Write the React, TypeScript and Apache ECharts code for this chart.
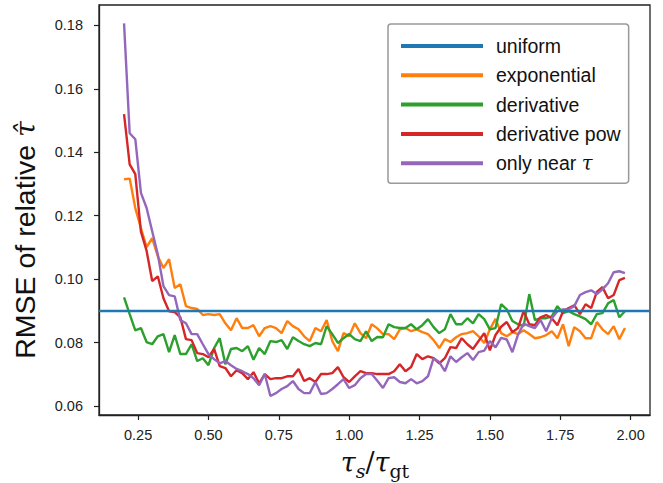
import React, { useEffect, useRef } from 'react';
import * as echarts from 'echarts';

const tauRatio = [
  0.20, 0.22, 0.24, 0.26, 0.28, 0.30, 0.32, 0.34, 0.36, 0.38,
  0.40, 0.42, 0.44, 0.46, 0.48, 0.50, 0.52, 0.54, 0.56, 0.58,
  0.60, 0.62, 0.64, 0.66, 0.68, 0.70, 0.72, 0.74, 0.76, 0.78,
  0.80, 0.82, 0.84, 0.86, 0.88, 0.90, 0.92, 0.94, 0.96, 0.98,
  1.00, 1.02, 1.04, 1.06, 1.08, 1.10, 1.12, 1.14, 1.16, 1.18,
  1.20, 1.22, 1.24, 1.26, 1.28, 1.30, 1.32, 1.34, 1.36, 1.38,
  1.40, 1.42, 1.44, 1.46, 1.48, 1.50, 1.52, 1.54, 1.56, 1.58,
  1.60, 1.62, 1.64, 1.66, 1.68, 1.70, 1.72, 1.74, 1.76, 1.78,
  1.80, 1.82, 1.84, 1.86, 1.88, 1.90, 1.92, 1.94, 1.96, 1.98,
];

const uniformValue = 0.0893;

const exponential = [
  0.1315, 0.1317, 0.1224, 0.1161, 0.1101, 0.1129, 0.1072, 0.1035, 0.1063, 0.0972,
  0.0984, 0.0915, 0.0909, 0.0906, 0.0887, 0.0890, 0.0887, 0.0890, 0.0861, 0.0839,
  0.0877, 0.0846, 0.0846, 0.0855, 0.0820, 0.0846, 0.0852, 0.0846, 0.0830, 0.0868,
  0.0852, 0.0842, 0.0820, 0.0805, 0.0846, 0.0836, 0.0871, 0.0805, 0.0773, 0.0830,
  0.0820, 0.0861, 0.0830, 0.0814, 0.0858, 0.0845, 0.0827, 0.0827, 0.0811, 0.0842,
  0.0846, 0.0836, 0.0842, 0.0833, 0.0827, 0.0808, 0.0783, 0.0811, 0.0802, 0.0817,
  0.0827, 0.0830, 0.0836, 0.0820, 0.0799, 0.0842, 0.0875, 0.0830, 0.0820, 0.0833,
  0.0827, 0.0839, 0.0827, 0.0814, 0.0817, 0.0824, 0.0836, 0.0814, 0.0858, 0.0789,
  0.0849, 0.0836, 0.0814, 0.0814, 0.0865, 0.0842, 0.0827, 0.0852, 0.0811, 0.0846,
];

const derivative = [
  0.0943, 0.0890, 0.0839, 0.0846, 0.0802, 0.0795, 0.0820, 0.0827, 0.0770, 0.0824,
  0.0764, 0.0764, 0.0795, 0.0742, 0.0751, 0.0729, 0.0783, 0.0814, 0.0732, 0.0780,
  0.0783, 0.0773, 0.0789, 0.0746, 0.0783, 0.0764, 0.0805, 0.0802, 0.0808, 0.0780,
  0.0817, 0.0805, 0.0795, 0.0789, 0.0799, 0.0795, 0.0852, 0.0827, 0.0799, 0.0814,
  0.0827, 0.0811, 0.0805, 0.0836, 0.0805, 0.0818, 0.0817, 0.0858, 0.0849, 0.0846,
  0.0846, 0.0858, 0.0842, 0.0855, 0.0874, 0.0849, 0.0830, 0.0842, 0.0890, 0.0858,
  0.0858, 0.0877, 0.0861, 0.0890, 0.0874, 0.0842, 0.0846, 0.0921, 0.0905, 0.0868,
  0.0858, 0.0852, 0.0953, 0.0871, 0.0877, 0.0877, 0.0883, 0.0915, 0.0893, 0.0899,
  0.0890, 0.0883, 0.0874, 0.0858, 0.0890, 0.0893, 0.0924, 0.0934, 0.0880, 0.0899,
];

const derivativePow = [
  0.1520, 0.1362, 0.1331, 0.1150, 0.1090, 0.0994, 0.1009, 0.0940, 0.0899, 0.0896,
  0.0880, 0.0811, 0.0808, 0.0767, 0.0764, 0.0754, 0.0780, 0.0726, 0.0720, 0.0694,
  0.0713, 0.0704, 0.0685, 0.0707, 0.0672, 0.0701, 0.0685, 0.0688, 0.0688, 0.0694,
  0.0694, 0.0717, 0.0679, 0.0688, 0.0676, 0.0701, 0.0701, 0.0704, 0.0723, 0.0691,
  0.0676, 0.0694, 0.0710, 0.0704, 0.0704, 0.0701, 0.0701, 0.0701, 0.0710, 0.0732,
  0.0710, 0.0723, 0.0764, 0.0748, 0.0757, 0.0751, 0.0735, 0.0751, 0.0786, 0.0783,
  0.0814, 0.0795, 0.0780, 0.0805, 0.0830, 0.0776, 0.0824, 0.0850, 0.0865, 0.0833,
  0.0846, 0.0899, 0.0858, 0.0855, 0.0880, 0.0887, 0.0877, 0.0855, 0.0899, 0.0909,
  0.0918, 0.0890, 0.0921, 0.0909, 0.0960, 0.0975, 0.0940, 0.0950, 0.0997, 0.1004,
];

const onlyNearTau = [
  0.1806, 0.1460, 0.1441, 0.1272, 0.1225, 0.1151, 0.1078, 0.0978, 0.0950, 0.0946,
  0.0871, 0.0861, 0.0827, 0.0827, 0.0795, 0.0764, 0.0748, 0.0735, 0.0742, 0.0729,
  0.0717, 0.0710, 0.0701, 0.0688, 0.0666, 0.0701, 0.0632, 0.0641, 0.0654, 0.0663,
  0.0679, 0.0654, 0.0641, 0.0641, 0.0676, 0.0638, 0.0641, 0.0654, 0.0669, 0.0685,
  0.0657, 0.0666, 0.0688, 0.0701, 0.0701, 0.0680, 0.0657, 0.0688, 0.0691, 0.0676,
  0.0672, 0.0685, 0.0672, 0.0679, 0.0694, 0.0751, 0.0739, 0.0710, 0.0757, 0.0739,
  0.0754, 0.0767, 0.0745, 0.0770, 0.0775, 0.0805, 0.0785, 0.0815, 0.0810, 0.0770,
  0.0825, 0.0860, 0.0852, 0.0846, 0.0871, 0.0836, 0.0877, 0.0899, 0.0905, 0.0905,
  0.0915, 0.0950, 0.0959, 0.0965, 0.0953, 0.0968, 0.0987, 0.1022, 0.1025, 0.1019,
];

const xTicks = [0.25, 0.5, 0.75, 1.0, 1.25, 1.5, 1.75, 2.0];
const yTicks = [0.06, 0.08, 0.1, 0.12, 0.14, 0.16, 0.18];

const seriesNames = ['uniform', 'exponential', 'derivative', 'derivative pow', 'only near τ'];
const seriesColors = ['#1f77b4', '#ff7f0e', '#2ca02c', '#d62728', '#9467bd'];

const SANS = '"Liberation Sans", Arial, sans-serif';
const SERIF = '"DejaVu Serif", "Liberation Serif", serif';

export default function App() {
  const ref = useRef<HTMLDivElement>(null);

  useEffect(() => {
    if (!ref.current) return;
    const chart = echarts.init(ref.current, null, { renderer: 'svg' });
    const pair = (ys: number[]) => tauRatio.map((x, i) => [x, ys[i]]);
    const lines = [exponential, derivative, derivativePow, onlyNearTau];

    const axisCommon = {
      type: 'value' as const,
      splitLine: { show: false },
      axisLine: { show: true, lineStyle: { color: '#222', width: 1.3 } },
    };

    chart.setOption({
      animation: false,
      backgroundColor: '#fff',
      grid: {
        left: 99, top: 5, right: 13, bottom: 68,
        show: true, borderColor: '#222', borderWidth: 1.3,
      },
      xAxis: {
        ...axisCommon,
        min: 0.111, max: 2.069,
        axisTick: { show: true, customValues: xTicks, length: 5, lineStyle: { color: '#222', width: 1.2 } },
        axisLabel: {
          customValues: xTicks,
          formatter: (v: number) => v.toFixed(2),
          fontSize: 14.5, color: '#222', fontFamily: SANS, margin: 12,
        },
      },
      yAxis: {
        ...axisCommon,
        min: 0.0572, max: 0.1864,
        axisTick: { show: true, customValues: yTicks, length: 5, lineStyle: { color: '#222', width: 1.2 } },
        axisLabel: {
          customValues: yTicks,
          formatter: (v: number) => v.toFixed(2),
          fontSize: 14.5, color: '#222', fontFamily: SANS, margin: 16,
        },
      },
      legend: {
        orient: 'vertical',
        left: 388, top: 24,
        padding: [12, 8, 10, 13],
        itemWidth: 82, itemHeight: 4, itemGap: 9.3, itemTextGap: 14,
        icon: 'rect',
        borderColor: '#999', borderWidth: 1.5, borderRadius: 3,
        backgroundColor: 'rgba(255,255,255,0.8)',
        data: seriesNames,
        formatter: (name: string) =>
          name === 'only near τ' ? '{a|only near }{m|τ}' : `{a|${name}}`,
        textStyle: {
          fontSize: 19.5, lineHeight: 20, color: '#111', fontFamily: SANS,
          rich: {
            a: { fontSize: 19.5, fontFamily: SANS, color: '#111', padding: [0, 0, 0, 8] },
            m: { fontSize: 19.5, fontFamily: SERIF, fontStyle: 'italic', color: '#111' },
          },
        },
      },
      graphic: [
        {
          type: 'text', x: 25, y: 240, rotation: Math.PI / 2,
          style: {
            text: 'RMSE of relative {t|τ̂}',
            fontSize: 28.5, fontFamily: SANS, fill: '#111',
            align: 'center', verticalAlign: 'middle',
            rich: { t: { fontSize: 28.5, fontFamily: SERIF, fontStyle: 'italic', fill: '#111' } },
          },
        },
        {
          type: 'text', x: 375, y: 462,
          style: {
            text: '{m|τ}{s|s}{n|/}{m|τ}{g|gt}',
            align: 'center', verticalAlign: 'middle', fill: '#111',
            rich: {
              m: { fontSize: 27, fontFamily: SERIF, fontStyle: 'italic', lineHeight: 36, verticalAlign: 'middle', fill: '#111' },
              n: { fontSize: 27, fontFamily: SERIF, lineHeight: 36, verticalAlign: 'middle', fill: '#111' },
              s: { fontSize: 19, fontFamily: SERIF, fontStyle: 'italic', lineHeight: 36, verticalAlign: 'bottom', fill: '#111' },
              g: { fontSize: 19, fontFamily: SERIF, lineHeight: 36, verticalAlign: 'bottom', fill: '#111' },
            },
          },
        },
      ],
      series: [
        {
          name: seriesNames[0], type: 'line', data: [], color: seriesColors[0],
          markLine: {
            silent: true, symbol: 'none', label: { show: false },
            lineStyle: { color: seriesColors[0], width: 2.3, type: 'solid' },
            data: [{ yAxis: uniformValue }],
          },
        },
        ...lines.map((ys, k) => ({
          name: seriesNames[k + 1], type: 'line', data: pair(ys),
          color: seriesColors[k + 1], showSymbol: false, symbol: 'none',
          lineStyle: { width: 2.4, color: seriesColors[k + 1] },
          emphasis: { disabled: true },
        })),
      ],
    });
    return () => chart.dispose();
  }, []);

  return <div ref={ref} style={{ position: 'fixed', left: 0, top: 0, width: 663, height: 483 }} />;
}
